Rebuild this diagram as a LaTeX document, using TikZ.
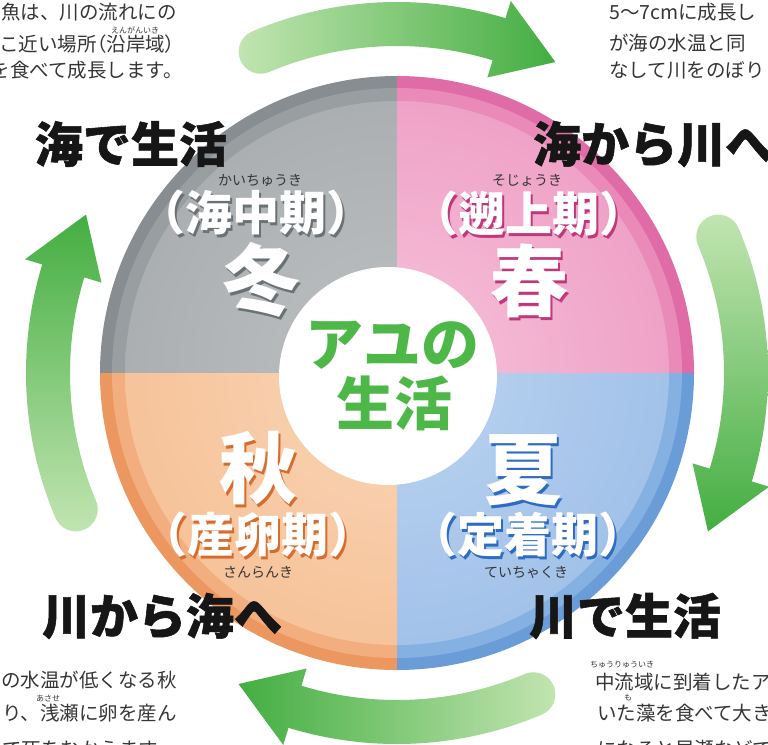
\documentclass[tikz,border=0pt]{standalone}
\usepackage{fontspec}
\setmainfont{Noto Sans CJK JP}
\newfontfamily\heavy{Noto Sans CJK JP}[BoldFeatures={FakeBold=1.2}]
\newcommand\narrowp[1]{{\addfontfeature{RawFeature=+palt}#1}}
\usetikzlibrary{calc}
\definecolor{gDark}{HTML}{878D90}
\definecolor{gMid}{HTML}{999EA0}
\definecolor{gLight}{HTML}{ABAFB1}
\definecolor{gLighter}{HTML}{BEC1C2}
\definecolor{pDark}{HTML}{DF6CA7}
\definecolor{pMid}{HTML}{E98AB9}
\definecolor{pLight}{HTML}{EFA2C7}
\definecolor{pLighter}{HTML}{F6C3DB}
\definecolor{oDark}{HTML}{EC9660}
\definecolor{oMid}{HTML}{F2AE7E}
\definecolor{oLight}{HTML}{F6C39A}
\definecolor{oLighter}{HTML}{FAD6B7}
\definecolor{bDark}{HTML}{6A9CD8}
\definecolor{bMid}{HTML}{85B0E2}
\definecolor{bLight}{HTML}{A2C2E9}
\definecolor{bLighter}{HTML}{BCD4F0}
\definecolor{gSh}{HTML}{6B7275}
\definecolor{pSh}{HTML}{C2377A}
\definecolor{oSh}{HTML}{D86B2E}
\definecolor{bSh}{HTML}{2E6CC4}
\definecolor{ayu}{HTML}{4DB748}
\definecolor{aDark}{HTML}{43AE41}
\definecolor{aLight}{HTML}{C3E5B2}
\definecolor{ink}{HTML}{161616}
\definecolor{bodyc}{HTML}{363636}
\def\Ro{371}\def\Ri{327}\def\Rh{389}\def\Rhi{309}\def\Ra{349}
\newcommand\greenarrow[4]{%
  \shade[#4] ($(O)+(#1:\Ro)$) arc[start angle=#1, end angle=#2, radius=\Ro]
    -- ($(O)+(#2:\Rh)$) -- ($(O)+(#3:\Ra)$) -- ($(O)+(#2:\Rhi)$)
    -- ($(O)+(#2:\Ri)$) arc[start angle=#2, end angle=#1, radius=\Ri]
    arc[start angle=#1+180, end angle=#1, radius=22] -- cycle;}
\newcommand\quadfill[5]{%
  \begin{scope}
    \clip (O) rectangle ++(#1);
    \fill[#2] (O) circle[radius=297];
    \fill[#3] (O) circle[radius=285];
    \shade[inner color=#5, outer color=#4] (O) circle[radius=272];
  \end{scope}}
\tikzset{
  biglab/.style={font=\fontsize{48}{48}\selectfont\heavy\bfseries, text=ink, inner sep=0},
  qlab/.style={font=\fontsize{47}{47}\selectfont\bfseries, text=white, inner sep=0},
  season/.style={font=\fontsize{78}{78}\selectfont\bfseries, text=white, inner sep=0},
  qruby/.style={font=\fontsize{14}{14}\selectfont, text=bodyc, inner sep=0},
  body/.style={font=\fontsize{19.5}{20}\selectfont, text=bodyc, inner sep=0},
  tinyruby/.style={font=\fontsize{8}{8}\selectfont, text=bodyc, inner sep=0},
  ctr/.style={font=\fontsize{58}{60}\selectfont\bfseries, text=ayu, inner sep=0},
}
\begin{document}
\begin{tikzpicture}[x=1pt,y=1pt]
\useasboundingbox (0,0) rectangle (768,-744);
\clip (0,0) rectangle (768,-744);
\fill[white] (0,0) rectangle (768,-744);
\coordinate (O) at (397,-373);
% quadrants
\quadfill{-310,310}{gDark}{gMid}{gLight}{gLighter}
\quadfill{310,310}{pDark}{pMid}{pLight}{pLighter}
\quadfill{-310,-310}{oDark}{oMid}{oLight}{oLighter}
\quadfill{310,-310}{bDark}{bMid}{bLight}{bLighter}
\node[circle, fill=white, minimum size=218, inner sep=0] (hub) at (388,-376) {};
% arrows
\greenarrow{113}{73}{63}{left color=aLight, right color=aDark}
\greenarrow{23}{-17}{-27}{top color=aLight, bottom color=aDark}
\greenarrow{-67}{-107}{-117}{left color=aDark, right color=aLight}
\greenarrow{203}{163}{153}{top color=aDark, bottom color=aLight}
% center
\node[ctr] (c1) at (392,-345) {アユの};
\node[ctr] (c2) at (394,-403) {生活};
% winter
\node[qruby] (wr) at (260,-180) {かいちゅうき};
\node[qlab, text=gSh] (wps) at (258,-216) {（海中期）};
\node[qlab] (wp) at (256,-213) {（海中期）};
\node[season, text=gSh] (ws) at (263,-283) {冬};
\node[season] (w) at (261,-280) {冬};
% spring
\node[qruby] (sr) at (527,-180) {そじょうき};
\node[qlab, text=pSh] (sps) at (531,-217) {（遡上期）};
\node[qlab] (sp) at (529,-214) {（遡上期）};
\node[season, text=pSh] (ss) at (531,-284) {春};
\node[season] (s) at (529,-281) {春};
% autumn
\node[season, text=oSh] (as) at (260,-471) {秋};
\node[season] (a) at (258,-468) {秋};
\node[qlab, text=oSh] (aps) at (260,-538) {（産卵期）};
\node[qlab] (ap) at (258,-535) {（産卵期）};
\node[qruby] (ar) at (258,-572) {さんらんき};
% summer
\node[season, text=bSh] (us) at (525,-473) {夏};
\node[season] (u) at (523,-470) {夏};
\node[qlab, text=bSh] (ups) at (530,-538) {（定着期）};
\node[qlab] (up) at (528,-535) {（定着期）};
\node[qruby] (ur) at (526,-572) {ていちゃくき};
% big labels
\node[biglab] (L1) at (131,-144) {海で生活};
\node[biglab, anchor=west] (L2) at (533,-144) {海から川へ};
\node[biglab] (L3) at (162,-616) {川から海へ};
\node[biglab] (L4) at (625,-616) {川で生活};
% corner texts
\node[body, anchor=east] (tl1) at (177,-12) {魚は、川の流れにの};
\node[tinyruby] (tlr) at (135,-30) {えんがんいき};
\node[body, anchor=east] (tl2) at (175,-44) {こ近い場所\narrowp{（}沿岸域\narrowp{）}};
\node[body, anchor=east] (tl3) at (183,-70) {を食べて成長します。};
\node[body, anchor=west] (tr1) at (609,-12) {5～7cmに成長し};
\node[body, anchor=west] (tr2) at (609,-43) {が海の水温と同};
\node[body, anchor=west] (tr3) at (609,-70) {なして川をのぼり};
\node[body, anchor=east] (bl1) at (177,-680) {の水温が低くなる秋};
\node[tinyruby] (blr) at (48,-698) {あさせ};
\node[body, anchor=east] (bl2) at (177,-713) {り、浅瀬に卵を産ん};
\node[body, anchor=west] (bl3) at (2,-749) {で死をむかえます};
\node[tinyruby] (brr) at (622,-665) {ちゅうりゅういき};
\node[body, anchor=west] (br1) at (595,-682) {中流域に到着したアユ};
\node[tinyruby] (brr2) at (628,-698) {も};
\node[body, anchor=west] (br2) at (597,-713) {いた藻を食べて大きく};
\node[body, anchor=west] (br3) at (597,-749) {になると早瀬などで};
\end{tikzpicture}
\end{document}
